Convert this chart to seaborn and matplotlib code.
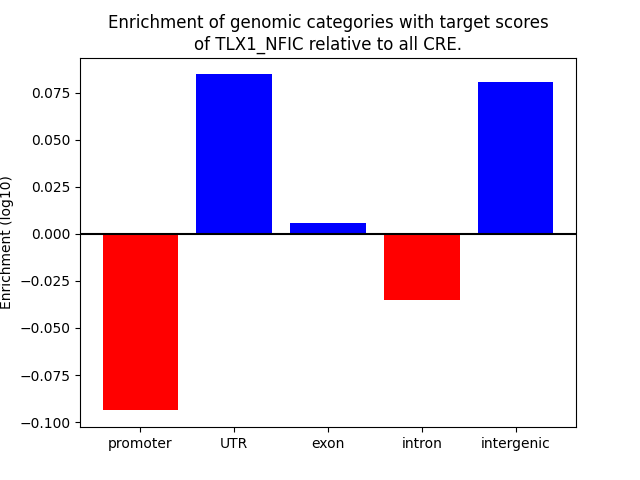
import matplotlib
matplotlib.use("Agg")
import matplotlib.pyplot as plt
import seaborn as sns
import pandas as pd

categories = ["promoter", "UTR", "exon", "intron", "intergenic"]
values = [-0.0936, 0.0851, 0.0059, -0.0352, 0.0809]
colors = ["red" if v < 0 else "blue" for v in values]

df = pd.DataFrame({"category": categories, "value": values})

fig, ax = plt.subplots(figsize=(6.4, 4.8), dpi=100)
sns.barplot(data=df, x="category", y="value", hue="category",
            palette=dict(zip(categories, colors)), legend=False,
            width=0.8, saturation=1, ax=ax, errorbar=None)
ax.axhline(0, color="black")
ax.set_xlim(-0.64, 4.64)
ax.set_ylim(-0.1027, 0.0936)
ax.set_xlabel("")
ax.set_ylabel("Enrichment (log10)")
ax.set_title("Enrichment of genomic categories with target scores\nof TLX1_NFIC relative to all CRE.")
fig.savefig("out.png", dpi=100)
